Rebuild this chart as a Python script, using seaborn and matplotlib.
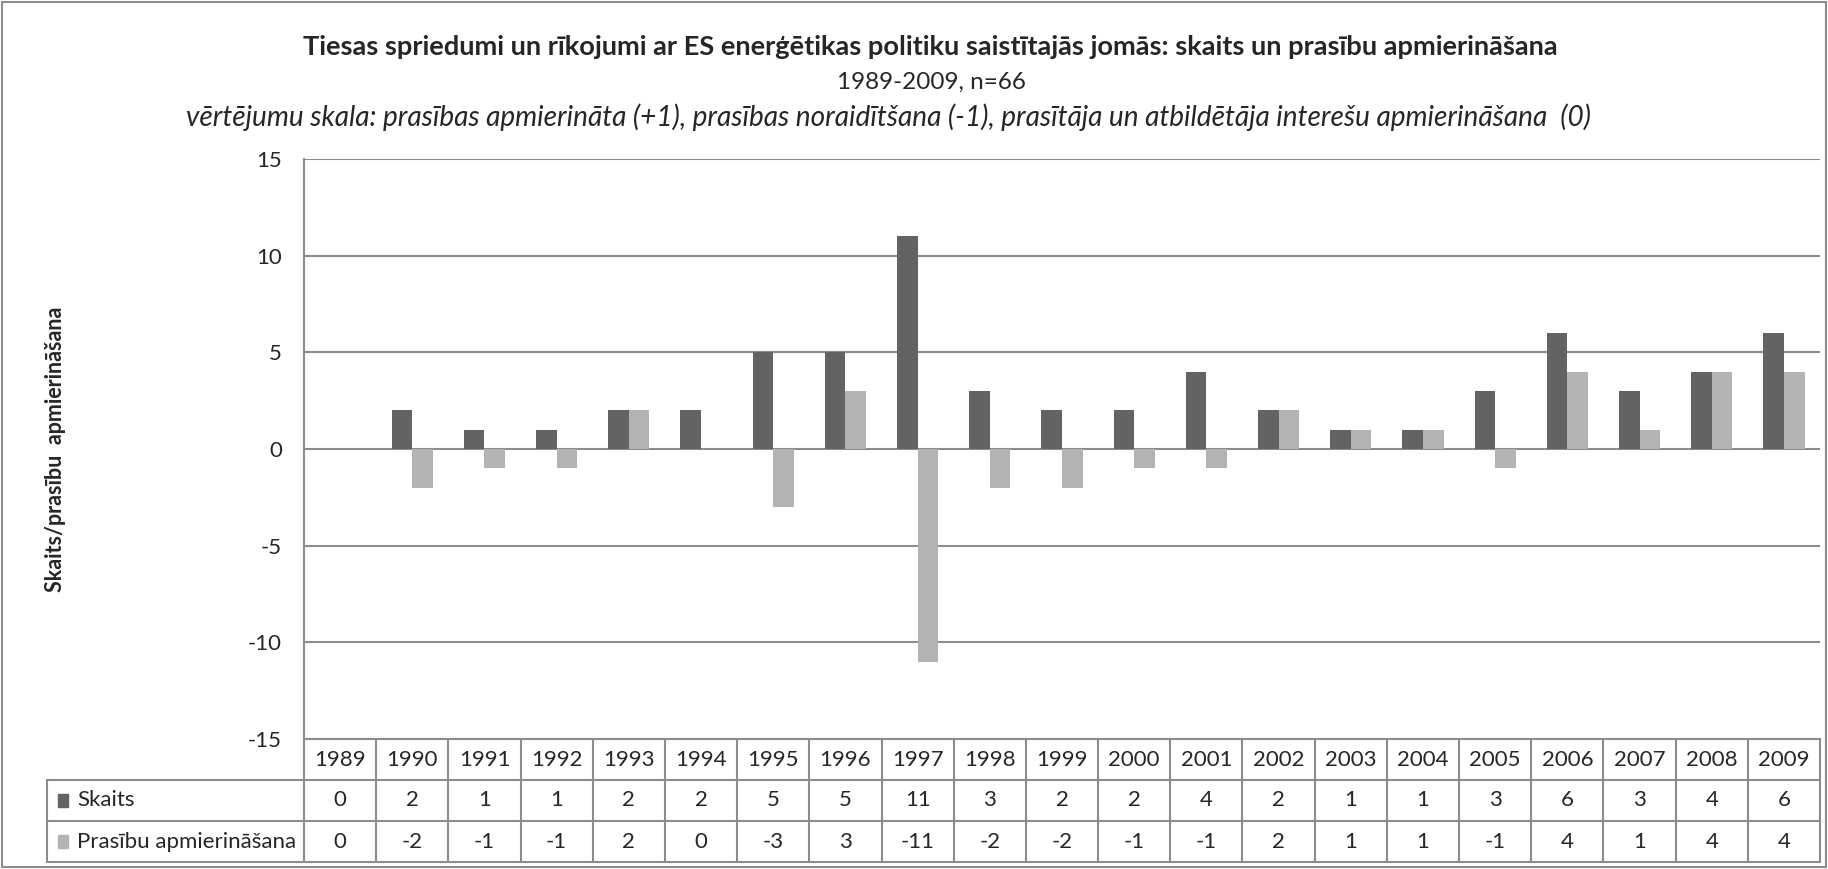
import seaborn as sns
import matplotlib.pyplot as plt
import pandas as pd
import numpy as np
from matplotlib.patches import Rectangle

years = [str(y) for y in range(1989, 2010)]
skaits = [0, 2, 1, 1, 2, 2, 5, 5, 11, 3, 2, 2, 4, 2, 1, 1, 3, 6, 3, 4, 6]
prasibu = [0, -2, -1, -1, 2, 0, -3, 3, -11, -2, -2, -1, -1, 2, 1, 1, -1, 4, 1, 4, 4]
series_names = ["Skaits", "Prasību apmierināšana"]
colors = ["#636363", "#b3b3b3"]

df = pd.DataFrame({
    "year": years * 2,
    "value": skaits + prasibu,
    "series": [series_names[0]] * len(years) + [series_names[1]] * len(years),
})

sns.set_style("white")
plt.rcParams['font.family'] = ['Lato', 'DejaVu Sans']
plt.rcParams['axes.unicode_minus'] = False

W, H = 1828, 869
fig = plt.figure(figsize=(W / 100, H / 100), dpi=100)

# plot area in pixel coords
left, right, top, bottom = 304, 1820, 159, 739
ax = fig.add_axes([left / W, 1 - bottom / H, (right - left) / W, (bottom - top) / H])

sns.barplot(data=df, x="year", y="value", hue="series", palette=colors,
            width=0.571, gap=0, saturation=1, linewidth=0, legend=False, ax=ax)
ax.set_xlim(-0.5, len(years) - 0.5)
ax.set_ylim(-15, 15)
ax.set_yticks(np.arange(-15, 16, 5))
ax.yaxis.grid(True, color="#8c8c8c", linewidth=1.5)
ax.set_axisbelow(True)
ax.set_xticks([])
ax.set_xlabel("")
ax.set_ylabel("")
ax.tick_params(axis="y", length=0, pad=16, labelsize=16)
for s in ["top", "right", "bottom"]:
    ax.spines[s].set_visible(False)
ax.spines["left"].set_color("#8c8c8c")
ax.spines["left"].set_linewidth(1.5)

# data table below
tleft, tbottom = 47, 862
tax = fig.add_axes([tleft / W, 1 - tbottom / H, (right - tleft) / W, (tbottom - bottom) / H])
cw = (right - left) / len(years)
x0 = -0.5 - (left - tleft) / cw
tax.set_xlim(x0, len(years) - 0.5)
tax.set_ylim(0, 3)
tax.axis("off")
lc = "#8c8c8c"
lw = 1.5
# horizontal lines
tax.plot([-0.5, len(years) - 0.5], [3, 3], color=lc, lw=lw, clip_on=False)
for yv in [0, 1, 2]:
    tax.plot([x0, len(years) - 0.5], [yv, yv], color=lc, lw=lw, clip_on=False)
# vertical lines
tax.plot([x0, x0], [0, 2], color=lc, lw=lw, clip_on=False)
for i in range(len(years) + 1):
    tax.plot([i - 0.5, i - 0.5], [0, 3], color=lc, lw=lw, clip_on=False)

rows = [skaits, prasibu]
for i, yr in enumerate(years):
    tax.text(i, 2.5, yr, ha="center", va="center", fontsize=16)
    for r, vals in enumerate(rows):
        tax.text(i, 1.5 - r, str(vals[i]), ha="center", va="center", fontsize=16)

for r, name in enumerate(series_names):
    yc = 1.5 - r
    tax.add_patch(Rectangle((x0 + 0.15, yc - 0.16), 0.14, 0.32, color=colors[r], clip_on=False))
    tax.text(x0 + 0.42, yc, name, ha="left", va="center", fontsize=16)

fig.text(55 / W, 1 - 449 / H, "Skaits/prasību  apmierināšana", rotation=90,
         ha="center", va="center", fontsize=15.5, fontweight="bold")

fig.text(0.5 * (301 + 1560) / W, 1 - 47 / H,
         "Tiesas spriedumi un rīkojumi ar ES enerģētikas politiku saistītajās jomās: skaits un prasību apmierināšana",
         ha="center", va="center", fontsize=19.6, fontweight="bold")
fig.text(0.5 * (837 + 1026) / W, 1 - 82 / H, "1989-2009, n=66",
         ha="center", va="center", fontsize=17.5)
fig.text(0.5 * (190 + 1586) / W, 1 - 117 / H,
         "vērtējumu skala: prasības apmierināta (+1), prasības noraidītšana (-1), prasītāja un atbildētāja interešu apmierināšana  (0)",
         ha="center", va="center", fontsize=20.2, style="italic")

fig.patches.append(Rectangle((2 / W, 2 / H), 1 - 4 / W, 1 - 4 / H, transform=fig.transFigure,
                             fill=False, edgecolor="#8c8c8c", linewidth=1.5))

fig.savefig("out.png", dpi=100)
plt.close(fig)
